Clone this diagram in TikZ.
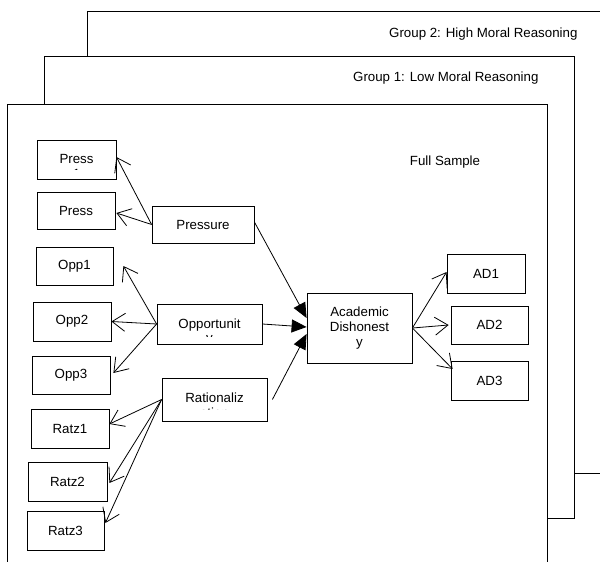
\documentclass[tikz,border=0pt]{standalone}
\usepackage{fontspec}
\setmainfont{Liberation Sans}
\usetikzlibrary{arrows.meta}
\begin{document}
\begin{tikzpicture}[x=1pt,y=-1pt,
  lab/.style={font=\fontsize{13.3}{15}\selectfont},
  box/.style={draw, line width=0.8pt, fill=white, inner sep=0pt, lab, align=center},
  frame/.style={draw, line width=0.8pt, fill=white},
  openarrow/.style={line width=0.8pt, -{Straight Barb[length=13pt,width=18pt]}},
  solidarrow/.style={line width=0.8pt, -{Triangle[length=15pt,width=13pt]}},
]
\useasboundingbox (0,0) rectangle (600,562);
\clip (0,0) rectangle (600,562);
% stacked group frames
\path[frame] (87,11) rectangle (612,473);
\node[lab, anchor=east] (g2label) at (581,34) {Group 2: High Moral Reasoning};
\path[frame] (44,56) rectangle (574,518);
\node[lab, anchor=east] (g1label) at (542,78) {Group 1: Low Moral Reasoning};
\path[frame] (7,104) rectangle (547,575);
\node[lab] (fslabel) at (445,162) {Full Sample};

% indicator boxes
\node[box, minimum width=79pt, minimum height=39pt] (p1) at (76.5,159.5) {};
\begin{scope}
  \clip (38,141) rectangle (115,169);
  \node[lab, anchor=base] (p1t) at (76.5,163) {Press};
  \node[lab, anchor=base] (p1u) at (76.5,178) {1};
\end{scope}
\node[box, minimum width=78pt, minimum height=37pt] (p2) at (76,210.5) {Press};
\node[box, minimum width=102pt, minimum height=37pt] (press) at (203,224.5) {Pressure};

\node[box, minimum width=77pt, minimum height=38pt] (o1) at (74.5,266) {Opp1};
\node[box, minimum width=78pt, minimum height=39pt] (o2) at (72,321.5) {Opp2};
\node[box, minimum width=78pt, minimum height=38pt] (o3) at (71,375) {Opp3};
\node[box, minimum width=105pt, minimum height=40pt] (opp) at (209.5,324) {};
\begin{scope}
  \clip (158,305) rectangle (261,336.5);
  \node[lab, anchor=base] (oppt) at (209.5,328) {Opportunit};
  \node[lab, anchor=base] (oppu) at (209.5,342.5) {y};
\end{scope}

\node[box, minimum width=78pt, minimum height=39pt] (r1) at (70,428.5) {Ratz1};
\node[box, minimum width=79pt, minimum height=39pt] (r2) at (67.5,481.5) {Ratz2};
\node[box, minimum width=77pt, minimum height=39pt] (r3) at (65.5,530.5) {Ratz3};
\node[box, minimum width=105pt, minimum height=43pt] (rat) at (214.5,399.5) {};
\begin{scope}
  \clip (163,379) rectangle (266,409.5);
  \node[lab, anchor=base] (ratt) at (214.5,402) {Rationaliz};
  \node[lab, anchor=base] (ratu) at (214.5,417) {ation};
\end{scope}

\node[box, minimum width=105pt, minimum height=70pt] (ad) at (359.5,328) {Academic\\Dishonest\\y};
\node[box, minimum width=78pt, minimum height=39pt] (a1) at (486,273.5) {AD1};
\node[box, minimum width=77pt, minimum height=38pt] (a2) at (489.5,325) {AD2};
\node[box, minimum width=77pt, minimum height=39pt] (a3) at (489.5,380.5) {AD3};

% connectors
\draw[openarrow] (press.west) -- ([yshift=2.5pt]p1.east);
\draw[openarrow] (press.west) -- ([shift={(1pt,-2.5pt)}]p2.east);

\draw[openarrow] (opp.west) -- ([xshift=10pt]o1.east);
\draw[openarrow] (opp.west) -- (o2.east);
\draw[openarrow] (opp.west) -- ([shift={(3pt,2pt)}]o3.east);

\draw[openarrow] (rat.west) -- ([yshift=4.5pt]r1.east);
\draw[openarrow] (rat.west) -- ([shift={(2pt,-1.5pt)}]r2.east);
\draw[openarrow] (rat.west) -- ([shift={(1pt,7.5pt)}]r3.east);

\draw[solidarrow] ([yshift=2.5pt]press.east) -- ([yshift=10pt]ad.west);
\draw[solidarrow] (opp.east) -- ([yshift=1pt]ad.west);
\draw[solidarrow] ([xshift=5pt]rat.east) -- ([yshift=-6pt]ad.west);

\draw[openarrow] (ad.east) -- ([yshift=1.5pt]a1.west);
\draw[openarrow] (ad.east) -- ([xshift=-2pt]a2.west);
\draw[openarrow] (ad.east) -- ([shift={(2pt,11.5pt)}]a3.west);
\end{tikzpicture}
\end{document}
